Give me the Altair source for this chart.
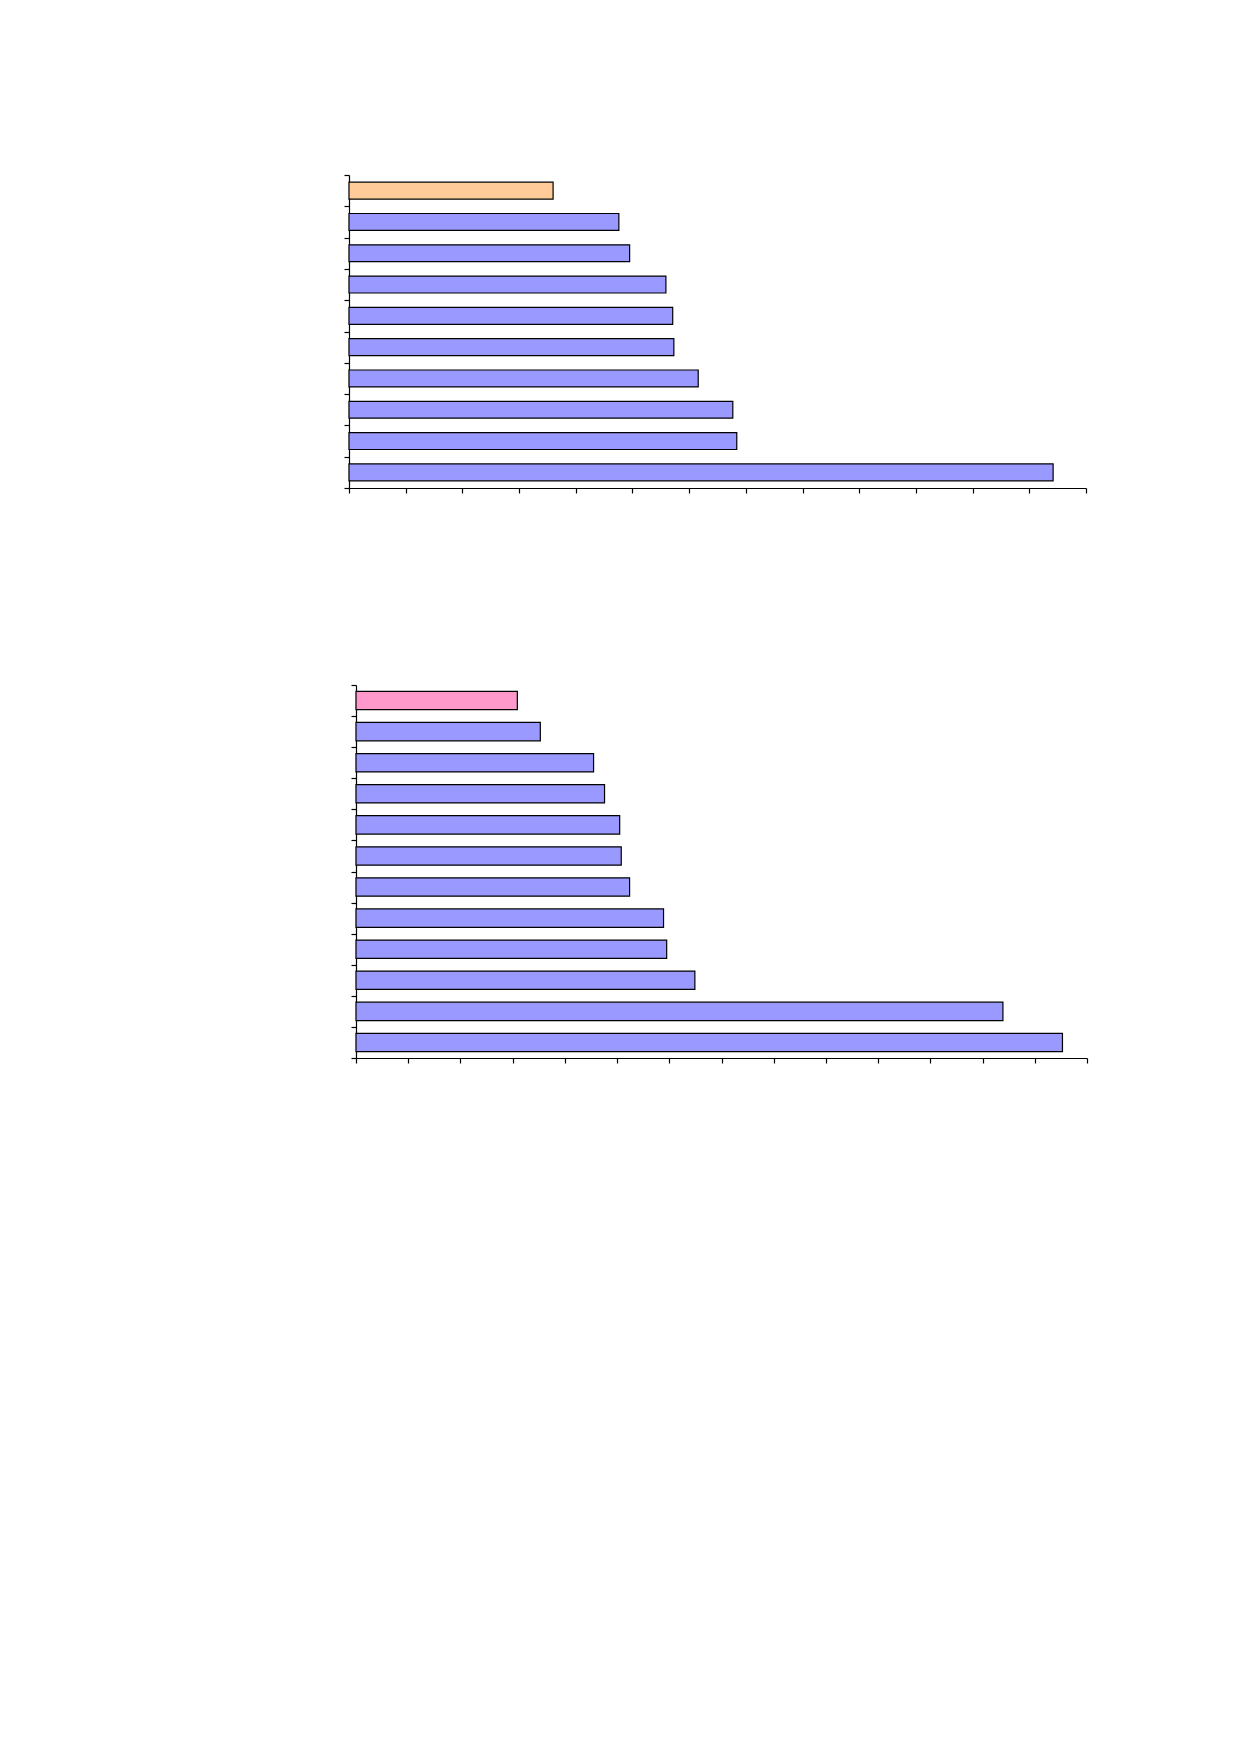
import altair as alt
import pandas as pd

# Chart 1 (top): 10 bars, listed top to bottom
cats1 = ["c1", "c2", "c3", "c4", "c5", "c6", "c7", "c8", "c9", "c10"]
vals1 = [3.60, 4.76, 4.95, 5.59, 5.71, 5.73, 6.16, 6.77, 6.84, 12.42]
highlight1 = "c1"
ticks1 = list(range(0, 14))

# Chart 2 (bottom): 12 bars, listed top to bottom
cats2 = ["d1", "d2", "d3", "d4", "d5", "d6", "d7", "d8", "d9", "d10", "d11", "d12"]
vals2 = [3.09, 3.53, 4.55, 4.76, 5.05, 5.08, 5.24, 5.89, 5.95, 6.49, 12.39, 13.53]
highlight2 = "d1"
ticks2 = list(range(0, 15))

BLUE = "#9999FF"
ORANGE = "#FFCC99"
PINK = "#FF99CC"

df1 = pd.DataFrame({"cat": cats1, "val": vals1})
df2 = pd.DataFrame({"cat": cats2, "val": vals2})


def bar_panel(df, cats, ticks, hl, hl_color, width, height, bar_band):
    return (
        alt.Chart(df)
        .mark_bar(stroke="black", strokeWidth=1.2, height={"band": bar_band})
        .encode(
            x=alt.X(
                "val:Q",
                scale=alt.Scale(domain=[ticks[0], ticks[-1]], nice=False),
                axis=alt.Axis(values=ticks, labels=False, title=None, grid=False,
                              tickSize=5, domainColor="black", tickColor="black"),
            ),
            y=alt.Y(
                "cat:N",
                sort=cats,
                scale=alt.Scale(paddingInner=0, paddingOuter=0),
                axis=alt.Axis(labels=False, title=None, grid=False, tickSize=5,
                              tickBand="extent", domainColor="black", tickColor="black"),
            ),
            fill=alt.condition(alt.datum.cat == hl, alt.value(hl_color), alt.value(BLUE)),
        )
        .properties(width=width, height=height)
    )


chart1 = bar_panel(df1, cats1, ticks1, highlight1, ORANGE, 737, 313, 0.54)
chart2 = bar_panel(df2, cats2, ticks2, highlight2, PINK, 731, 373, 0.59)

spacer = (
    alt.Chart(pd.DataFrame({"s": [0]}))
    .mark_rect(opacity=0)
    .encode(x=alt.value(0), x2=alt.value(1), y=alt.value(0), y2=alt.value(373))
    .properties(width=1, height=373)
)

row2 = alt.hconcat(spacer, chart2, spacing=0)

chart = (
    alt.vconcat(chart1, row2, spacing=190)
    .properties(padding={"left": 335, "top": 166, "right": 5, "bottom": 5})
    .configure_view(stroke=None)
    .configure_axis(domainWidth=1.2, tickWidth=1.2)
)

chart.save("out.html", embed_options={"renderer": "svg", "actions": False})
